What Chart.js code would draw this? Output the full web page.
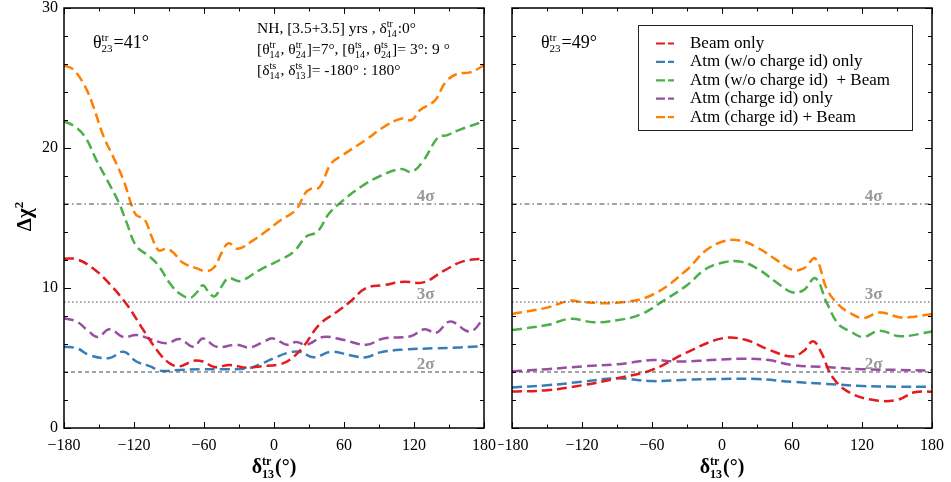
<!DOCTYPE html>
<html>
<head>
<meta charset="utf-8">
<script src="https://cdn.jsdelivr.net/npm/chart.js@4.4.1/dist/chart.umd.min.js"></script>
<style>
  body { margin: 0; background: #fff; overflow: hidden; }
  canvas { position: absolute; top: 0; }
  #left { left: 0; }
  #right { left: 498px; }
</style>
</head>
<body>
<canvas id="left" width="498" height="482"></canvas>
<canvas id="right" width="453" height="482"></canvas>
<script>
// tick values
const xMajor = [-180, -120, -60, 0, 60, 120, 180];
const yMajor = [0, 10, 20, 30];
const sigmaLevels = [16, 9, 4];
const sigmaNames = ['4\u03c3', '3\u03c3', '2\u03c3'];
const seriesNames = ['Beam only', 'Atm (w/o charge id) only', 'Atm (w/o charge id)  + Beam', 'Atm (charge id) only', 'Atm (charge id) + Beam'];
const colors = ['#e41a1c', '#377eb8', '#4daf4a', '#984ea3', '#ff7f00'];

// left panel, theta23 = 41
const L_redX = [-180,-169,-155,-141,-126,-112,-98,-89,-81,-69,-61,-51,-38,-23,-12,5,14,25,39,54,65,79,94,111,128,145,162,180];
const L_red  = [12.1,12.05,11.4,10.3,8.8,7.0,5.3,4.6,4.4,4.8,4.75,4.35,4.5,4.3,4.4,4.55,4.9,5.8,7.4,8.3,9.0,10.0,10.2,10.45,10.4,11.2,11.9,12.1];
const L_blueX = [-180,-169,-158,-141,-129,-118,-106,-98,-81,-61,-41,-23,-12,-1,11,22,34,49,65,79,91,111,139,159,180];
const L_blue  = [5.8,5.7,5.2,5.0,5.45,4.75,4.4,4.1,4.15,4.2,4.2,4.25,4.55,4.95,5.35,5.45,5.05,5.45,5.2,5.05,5.4,5.6,5.7,5.75,5.85];
const L_greenX = [-180,-172,-162,-152,-143,-133,-126,-118,-106,-99,-89,-81,-72,-66,-61,-56,-51,-45,-39,-29,-12,5,17,28,37,47,57,74,91,109,118,128,141,148,159,180];
const L_green  = [21.9,21.6,20.8,19.1,17.7,16.1,14.6,13.0,12.2,11.6,10.3,9.6,9.3,9.7,10.2,9.7,9.4,10.1,10.7,10.5,11.3,12.0,12.6,13.7,14.0,15.3,16.1,17.2,18.0,18.5,18.3,19.1,20.8,20.9,21.3,21.9];
const L_purpleX = [-180,-169,-160,-151,-141,-129,-118,-106,-92,-81,-69,-61,-49,-32,-21,-9,-1,11,19,28,42,59,79,94,117,129,139,151,168,180];
const L_purple  = [7.85,7.6,7.0,6.5,7.05,6.5,6.65,6.35,6.05,6.35,5.8,6.4,5.8,5.95,5.75,6.15,6.4,5.95,6.15,5.95,6.5,6.3,5.95,6.4,6.55,7.05,6.8,7.6,6.9,7.85];
const L_orangeX = [-180,-172,-162,-155,-146,-138,-129,-122,-118,-111,-105,-99,-92,-86,-78,-66,-58,-51,-45,-39,-31,-18,-6,5,19,27,32,39,49,59,79,94,109,118,125,138,147,157,168,180];
const L_orange  = [25.9,25.6,24.4,23.0,20.8,19.4,17.7,15.9,15.2,14.9,13.7,12.7,12.8,12.5,11.8,11.4,11.2,11.5,12.5,13.2,12.8,13.4,14.1,14.8,15.6,16.8,17.1,17.2,18.9,19.5,20.6,21.5,22.1,22.0,22.7,23.4,24.7,25.3,25.4,25.9];

// right panel, theta23 = 49
const R_redX = [-180,-150,-120,-90,-60,-30,0,20,40,60,70,78,85,95,110,130,150,165,180];
const R_red  = [2.6,2.7,3.05,3.55,4.15,5.4,6.4,6.3,5.6,5.1,5.5,6.2,5.4,3.6,2.5,2.0,2.0,2.55,2.6];
const R_blueX = [-180,-150,-120,-90,-60,-30,0,30,60,90,120,150,180];
const R_blue  = [2.9,3.05,3.3,3.55,3.35,3.45,3.5,3.5,3.3,3.15,3.0,2.95,2.95];
const R_greenX = [-180,-150,-130,-110,-90,-70,-50,-30,-15,0,15,30,50,60,70,80,90,100,110,121,135,153,180];
const R_green  = [7.0,7.35,7.8,7.55,7.7,8.1,9.1,10.2,11.3,11.8,11.9,11.4,10.2,9.7,9.85,10.7,8.9,7.4,6.9,6.5,6.95,6.55,6.9];
const R_purpleX = [-180,-150,-120,-90,-60,-40,-20,0,20,40,60,90,120,150,180];
const R_purple  = [4.05,4.2,4.4,4.55,4.85,4.75,4.8,4.9,4.95,4.85,4.5,4.35,4.2,4.15,4.1];
const R_orangeX = [-180,-150,-130,-120,-90,-60,-30,-15,0,15,30,45,60,70,80,90,100,110,121,135,153,165,180];
const R_orange  = [8.15,8.6,9.1,9.0,8.95,9.5,11.3,12.6,13.3,13.4,12.9,12.1,11.3,11.4,12.1,9.9,8.8,8.2,7.85,8.25,7.9,7.95,8.15];

const SERIF = '"Liberation Serif", "DejaVu Serif", serif';

function pts(xs, ys) { return xs.map((x, i) => ({ x: x, y: ys[i] })); }

// text with stacked super/subscripts; parts are strings or {sup, sub}
function rich(ctx, x, y, parts, size, bold, measureOnly) {
  const f = s => (bold ? 'bold ' : '') + s + 'px ' + SERIF;
  let cx = x;
  for (const p of parts) {
    if (typeof p === 'string') {
      ctx.font = f(size);
      if (!measureOnly) ctx.fillText(p, cx, y);
      cx += ctx.measureText(p).width;
    } else {
      ctx.font = f(Math.round(size * 0.62));
      let w = 0;
      if (p.sup) { if (!measureOnly) ctx.fillText(p.sup, cx, y - size * 0.4); w = ctx.measureText(p.sup).width; }
      if (p.sub) { if (!measureOnly) ctx.fillText(p.sub, cx, y + size * 0.24); w = Math.max(w, ctx.measureText(p.sub).width); }
      cx += w + 1;
    }
  }
  return cx - x;
}

const refStyles = [[5, 3, 1.5, 3], [1.5, 2.5], [4, 3]];

function buildDatasets(series) {
  const ds = sigmaLevels.map((lv, i) => ({
    data: [{ x: -180, y: lv }, { x: 180, y: lv }],
    borderColor: '#4a4a4a', borderWidth: 1.2, borderDash: refStyles[i],
    pointRadius: 0, tension: 0, fill: false
  }));
  series.forEach((s, i) => ds.push({
    label: seriesNames[i],
    data: s,
    borderColor: colors[i], borderWidth: 2.5, borderDash: [10, 5],
    pointRadius: 0, tension: 0.4, fill: false
  }));
  return ds;
}

const decor = {
  id: 'decor',
  afterDatasetsDraw(chart) {
    const { ctx, chartArea: a, scales: { x, y } } = chart;
    ctx.save();
    ctx.strokeStyle = '#000';
    ctx.lineWidth = 1;
    const seg = (x1, y1, x2, y2) => { ctx.beginPath(); ctx.moveTo(x1, y1); ctx.lineTo(x2, y2); ctx.stroke(); };
    for (let v = -180; v <= 180; v += 30) {
      const px = Math.round(x.getPixelForValue(v)) + 0.5;
      const L = v % 60 === 0 ? 6 : 3.5;
      seg(px, a.bottom, px, a.bottom - L);
      seg(px, a.top, px, a.top + L);
    }
    for (let v = 0; v <= 30; v += 2) {
      const py = Math.round(y.getPixelForValue(v)) + 0.5;
      const L = v % 10 === 0 ? 7 : 4;
      seg(a.left, py, a.left + L, py);
      seg(a.right, py, a.right - L, py);
    }
    ctx.lineWidth = 1.5;
    ctx.strokeRect(a.left, a.top, a.right - a.left, a.bottom - a.top);

    // sigma labels
    ctx.fillStyle = '#999';
    ctx.font = 'bold 17px ' + SERIF;
    ctx.textAlign = 'center';
    sigmaLevels.forEach((lv, i) => {
      ctx.fillText(sigmaNames[i], x.getPixelForValue(130), y.getPixelForValue(lv) - 3);
    });
    ctx.restore();

    // x axis title
    ctx.save();
    ctx.fillStyle = '#000';
    const xt = ['\u03b4', { sup: 'tr', sub: '13' }, '(\u00b0)'];
    const w = rich(ctx, 0, 0, xt, 20, true, true);
    rich(ctx, (a.left + a.right) / 2 - w / 2, 473, xt, 20, true);

    const o = chart.options.plugins.decor;
    rich(ctx, a.left + 29, 48, ['\u03b8', { sup: 'tr', sub: '23' }, '=' + o.theta + '\u00b0'], 18, false);

    if (o.notes) {
      const bx = a.left + 193;
      rich(ctx, bx, 33, ['NH, [3.5+3.5] yrs , \u03b4', { sup: 'tr', sub: '14' }, ':0\u00b0'], 15.5, false);
      rich(ctx, bx, 54, ['[\u03b8', { sup: 'tr', sub: '14' }, ', \u03b8', { sup: 'tr', sub: '24' }, ']=7\u00b0, [\u03b8', { sup: 'ts', sub: '14' }, ', \u03b8', { sup: 'ts', sub: '24' }, ']= 3\u00b0: 9 \u00b0'], 15.5, false);
      rich(ctx, bx, 75, ['[\u03b4', { sup: 'ts', sub: '14' }, ', \u03b4', { sup: 'ts', sub: '13' }, ']= -180\u00b0 : 180\u00b0'], 15.5, false);
    }
    if (o.ytitle) {
      ctx.translate(24, 216);
      ctx.rotate(-Math.PI / 2);
      const yt = ['\u0394\u03c7', { sup: '2' }];
      const yw = rich(ctx, 0, 0, yt, 21, true, true);
      rich(ctx, -yw / 2, 7, yt, 21, true);
    }
    if (o.legend) {
      const lx = a.left + 126, ly = 25;
      ctx.fillStyle = '#fff';
      ctx.fillRect(lx, ly, 274, 105);
      ctx.strokeStyle = '#222';
      ctx.lineWidth = 1;
      ctx.strokeRect(lx + 0.5, ly + 0.5, 274, 105);
      ctx.font = '17px ' + SERIF;
      ctx.textBaseline = 'middle';
      chart.data.datasets.filter(d => d.label).forEach((d, i) => {
        const cy = ly + 18.5 + i * 18.4;
        ctx.strokeStyle = d.borderColor;
        ctx.lineWidth = 2.2;
        ctx.setLineDash([9, 3]);
        ctx.beginPath(); ctx.moveTo(lx + 18, cy); ctx.lineTo(lx + 36, cy); ctx.stroke();
        ctx.setLineDash([]);
        ctx.fillStyle = '#000';
        ctx.fillText(d.label, lx + 52, cy);
      });
    }
    ctx.restore();
  }
};

function makeChart(id, series, yWidth, padRight, extra) {
  return new Chart(document.getElementById(id), {
    type: 'line',
    data: { datasets: buildDatasets(series) },
    options: {
      responsive: false,
      animation: false,
      layout: { padding: { top: 8, right: padRight, left: 0, bottom: 0 } },
      scales: {
        x: {
          type: 'linear', min: -180, max: 180,
          afterBuildTicks: s => { s.ticks = xMajor.map(v => ({ value: v })); },
          afterFit: s => { s.height = 54; s.paddingLeft = 0; s.paddingRight = 0; },
          grid: { display: false, drawTicks: false },
          border: { display: false },
          ticks: {
            padding: 8, color: '#000', maxRotation: 0, autoSkip: false,
            font: { family: SERIF, size: 16 },
            callback: v => v < 0 ? '\u2212' + Math.abs(v) : String(v)
          }
        },
        y: {
          min: 0, max: 30,
          afterBuildTicks: s => { s.ticks = yMajor.map(v => ({ value: v })); },
          afterFit: s => { s.width = yWidth; s.paddingTop = 0; s.paddingBottom = 0; },
          grid: { display: false, drawTicks: false },
          border: { display: false },
          ticks: {
            display: extra.yLabels, padding: 6, color: '#000',
            font: { family: SERIF, size: 16 }
          }
        }
      },
      plugins: {
        legend: { display: false },
        tooltip: { enabled: false },
        decor: extra
      }
    },
    plugins: [decor]
  });
}

makeChart('left', [pts(L_redX, L_red), pts(L_blueX, L_blue), pts(L_greenX, L_green), pts(L_purpleX, L_purple), pts(L_orangeX, L_orange)],
  64, 14, { theta: 41, notes: true, ytitle: true, legend: false, yLabels: true });
makeChart('right', [pts(R_redX, R_red), pts(R_blueX, R_blue), pts(R_greenX, R_green), pts(R_purpleX, R_purple), pts(R_orangeX, R_orange)],
  14, 19, { theta: 49, notes: false, ytitle: false, legend: true, yLabels: false });
</script>
</body>
</html>
